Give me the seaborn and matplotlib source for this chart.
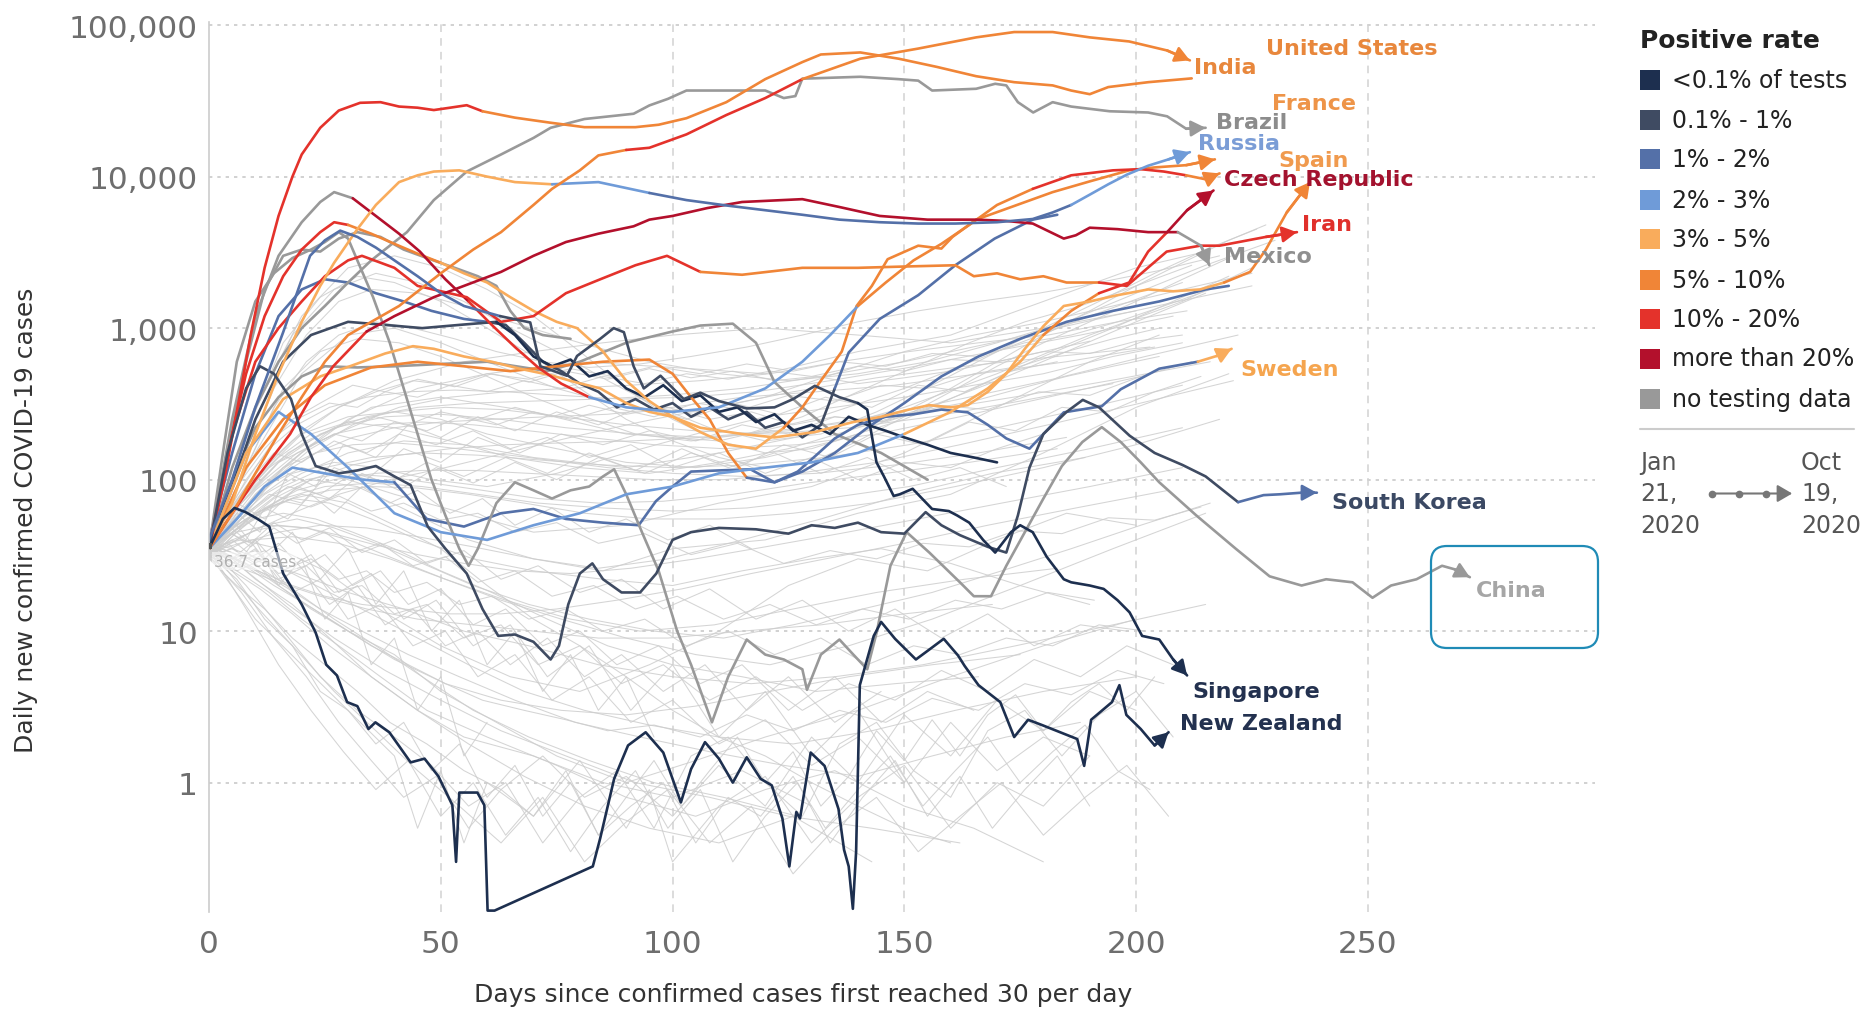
import matplotlib
matplotlib.use("Agg")
import matplotlib.pyplot as plt
import numpy as np
import pandas as pd
import seaborn as sns
from matplotlib.patches import FancyBboxPatch, Rectangle, FancyArrowPatch
from matplotlib.lines import Line2D
from matplotlib.ticker import FixedLocator, FuncFormatter, NullLocator

# ---------------------------------------------------------------- categories
R_LT01 = "<0.1% of tests"
R_01_1 = "0.1% - 1%"
R_1_2 = "1% - 2%"
R_2_3 = "2% - 3%"
R_3_5 = "3% - 5%"
R_5_10 = "5% - 10%"
R_10_20 = "10% - 20%"
R_20 = "more than 20%"
R_NONE = "no testing data"
rate_levels = [R_LT01, R_01_1, R_1_2, R_2_3, R_3_5, R_5_10, R_10_20, R_20, R_NONE]
rate_colors = ["#1d2f4f", "#3f4b62", "#5470a8", "#6f9bd8", "#f9ac5c",
               "#f08537", "#e4322b", "#b3102c", "#999999"]

# ---------------------------------------------------------------- highlighted series
us_days = [0, 3, 6, 9, 12, 15, 18, 20, 24, 28, 32.6, 37, 41, 45, 48.5, 52, 55.6, 59, 66, 73.6,
           81, 92, 97, 103, 111.6, 120, 128, 132, 140.5, 148.8, 157, 165.5, 173.7, 182, 186, 190, 194, 202.6, 212]
us_cases = [35, 90, 280, 900, 2500, 5500, 10000, 14000, 21000, 27300, 30700, 31000, 29000, 28500, 27500, 28500, 29600, 27000, 24500, 22700,
            21200, 21200, 22000, 24300, 31000, 44000, 57000, 64000, 66000, 60000, 53000, 46000, 42000, 40000, 37000, 35000, 39000, 42000, 44500]
us_rate = [(0, R_10_20), (59, R_5_10)]

in_days = [0, 5, 10, 15, 20, 25, 30, 35, 41, 50, 57, 63, 70, 74, 80, 84, 90, 95, 103, 111.6,
           120, 128, 140.5, 153, 165.5, 173.7, 182, 190, 198.5, 206.7, 211.6]
in_cases = [35, 60, 110, 200, 350, 600, 900, 1100, 1400, 2300, 3300, 4300, 6500, 8300, 11000, 13800, 15000, 15500, 19000, 25500,
            33000, 44000, 60000, 70000, 83000, 90000, 90000, 83000, 78000, 68000, 58500]
in_rate = [(0, R_5_10), (90, R_10_20), (128, R_5_10)]

br_days = [0, 5, 10, 15, 20, 25, 30, 35, 42.7, 48.5, 55.6, 63, 70, 73.7, 81, 91.6, 95, 99, 103, 111.6,
           120, 124, 126.5, 128, 140.5, 148.7, 153, 156, 165.5, 169.6, 172, 174.5, 177.8, 182, 186, 194.3, 202.6, 206.7, 210.8, 215]
br_cases = [35, 120, 300, 600, 1000, 1400, 2000, 2800, 4300, 7000, 10800, 14000, 18000, 21000, 24000, 26000, 29500, 32600, 37000, 37000,
            37000, 33000, 34000, 44300, 45600, 44000, 43000, 37000, 38000, 41000, 40000, 31000, 26500, 31000, 29000, 27000, 26500, 25000, 20700, 21000]
br_rate = [(0, R_NONE)]

ru_days = [0, 5, 10, 15, 20, 24, 27, 32, 36, 41, 45, 48.5, 54, 60, 66, 74, 84, 95, 103, 111.6,
           120, 128, 136, 144.7, 153, 161, 170, 177.7, 182, 186, 190, 194, 198, 202.6, 207, 211.6]
ru_cases = [35, 70, 200, 500, 1100, 1900, 2700, 4500, 6500, 9200, 10200, 10800, 11000, 10000, 9200, 8900, 9200, 7800, 7000, 6450,
            6000, 5600, 5200, 5000, 4900, 4900, 5000, 5250, 5800, 6500, 7600, 8900, 10300, 11800, 13000, 14500]
ru_rate = [(0, R_3_5), (74, R_2_3), (88, R_1_2), (185, R_2_3)]

cn_days = [0, 3, 6, 10, 14, 18, 22, 25, 28, 30, 32, 35.4, 39, 42, 45, 48, 51, 54, 56, 58,
           62, 66, 70, 74, 78, 82, 85, 87.4, 90, 93.4, 97, 101, 104, 108.5, 112, 116, 120, 124, 128, 129,
           132, 136, 139, 142, 144, 147, 150.5, 155.4, 162, 165, 168.7, 172, 176, 180, 184, 188.4, 192.6, 196.7, 201, 205,
           213, 221.5, 228.8, 235.7, 241, 246.7, 251, 255, 260.5, 266, 268.7, 272]
cn_cases = [35, 150, 600, 1500, 2300, 2900, 3300, 3700, 4300, 3900, 2800, 1600, 800, 400, 200, 100, 58, 35, 27, 35,
            70, 96, 85, 75, 85, 90, 105, 117, 80, 45, 25, 10, 6, 2.5, 5, 8.8, 7, 6.5, 5.6, 4.1,
            7, 8.8, 7, 5.6, 9.7, 27, 45, 33, 21, 17, 17, 27, 45, 75, 123, 177, 222, 177, 130, 96,
            58, 35, 23, 20, 22, 21, 16.6, 20, 22, 27, 25.6, 22.7]
cn_rate = [(0, R_NONE)]

kr_days = [0, 4, 8, 11, 14, 17.7, 20, 23, 28, 32, 36, 40, 43.5, 47.2, 51, 55.6, 59, 62.4, 66, 70,
           73.7, 75.5, 77.5, 80, 82.7, 85, 89, 93, 96.5, 100, 104, 110, 118, 125, 130, 135, 140, 145, 150, 154.6,
           158, 162, 168, 172, 174.5, 177, 180, 185, 188.5, 192, 198.6, 204, 210, 215, 222, 227.5, 231, 235.7, 239]
kr_cases = [35, 150, 400, 560, 500, 340, 200, 123, 110, 115, 123, 105, 92, 49, 35, 24, 14, 9.3, 9.5, 8.5,
            6.5, 8, 15, 24, 28, 22, 18, 18, 24, 40, 45, 48, 47, 44, 50, 48, 52, 45, 44, 61,
            50, 43, 36, 33, 58, 120, 200, 280, 336, 300, 195, 150, 125, 105, 71, 79, 80, 82, 82]
kr_rate = [(0, R_01_1), (218, R_1_2)]

sg_days = [0, 5, 10, 16, 21.8, 25, 28.3, 32, 36, 40, 45, 50, 55, 62.8, 69.3, 71.5, 77.2, 79.4, 84.4, 87.3,
           89.5, 91.6, 93.8, 97.4, 102.4, 106, 110, 116, 122, 126, 130.7, 136, 140, 142, 143, 144, 145.6, 147.7, 149, 151.8,
           156, 159.6, 161.4, 164, 167, 169.6, 173, 175, 177.7, 180.7, 184.4, 186, 190, 193, 196, 198.6, 201.3, 205, 208, 211]
sg_cases = [40, 100, 300, 940, 3000, 3800, 4400, 4000, 3400, 2800, 2200, 1700, 1400, 1200, 1090, 560, 485, 655, 850, 1000,
            940, 560, 400, 485, 340, 375, 330, 295, 300, 340, 416, 350, 320, 290, 194, 130, 105, 78, 80, 87,
            64, 62, 58, 52, 40, 33, 45, 50, 45, 31, 22, 21, 20, 19, 16, 13.3, 9.3, 8.8, 6.5, 5.1]
sg_rate = [(0, R_1_2), (60, R_01_1), (140, R_LT01)]

nz_days = [0, 3, 5.5, 7.9, 10.5, 13, 16, 20, 23, 25.3, 27.6, 29.8, 32, 34.4, 35.9, 38.9, 43.5, 46.5, 49.5, 52.5,
           53.3, 54, 57.9, 59.4, 60.1, 61.6, 82.8, 84.4, 87.4, 90.4, 94.2, 98, 101.8, 104, 107, 110, 113, 116, 119, 121.4,
           123.7, 125.2, 126.7, 127.5, 129.8, 132.8, 135.8, 137, 138, 138.9, 139.6, 140.4, 143.4, 145, 148, 152.5, 155.5, 158.5, 161.6, 163,
           166, 170.7, 173.7, 176.7, 179.7, 187.3, 188.8, 190.3, 194.8, 196.4, 197.9, 201, 204, 207]
nz_cases = [35, 55, 65, 61, 55, 49, 24, 15, 9.8, 6, 5.1, 3.4, 3.2, 2.26, 2.5, 2.15, 1.36, 1.44, 1.1, 0.71,
            0.3, 0.86, 0.86, 0.71, 0.143, 0.143, 0.28, 0.43, 1.06, 1.76, 2.15, 1.58, 0.74, 1.23, 1.85, 1.44, 1.0, 1.47, 1.06, 0.96,
            0.58, 0.28, 0.64, 0.58, 1.58, 1.29, 0.67, 0.36, 0.28, 0.147, 0.35, 4.4, 9.3, 11.5, 8.9, 6.5, 7.6, 8.9, 6.9, 5.9,
            4.4, 3.4, 2.0, 2.6, 2.4, 1.94, 1.29, 2.6, 3.4, 4.4, 2.8, 2.26, 1.76, 2.15]
nz_rate = [(0, R_LT01)]

mx_days = [0, 5, 10, 17.5, 22, 26.8, 34, 40, 48.5, 55, 63, 70, 77, 84, 91.6, 95, 100, 107.5, 115, 128,
           136, 144.7, 155, 165.5, 172, 177.7, 184.4, 187, 190, 196, 202.6, 209, 214, 215.8]
mx_cases = [35, 60, 100, 200, 350, 560, 950, 1200, 1600, 1900, 2350, 3000, 3700, 4200, 4700, 5200, 5500, 6200, 6800, 7100,
            6300, 5500, 5200, 5200, 5100, 4900, 3900, 4100, 4600, 4500, 4300, 4300, 3500, 2600]
mx_rate = [(0, R_10_20), (30, R_20), (209, R_NONE)]

ir_days = [0, 5, 10, 15, 20, 25, 30, 33, 40, 45, 55.6, 63, 70, 77, 84.4, 92, 98.8, 106, 115, 128,
           140, 150, 161, 165, 170, 175, 180, 185, 192, 198, 206.6, 213.8, 218, 228, 234.7]
ir_cases = [35, 200, 600, 1000, 1500, 2200, 2800, 3000, 2500, 1900, 1600, 1100, 1200, 1700, 2100, 2600, 3000, 2350, 2250, 2500,
            2500, 2550, 2600, 2200, 2300, 2100, 2200, 2000, 2000, 1900, 3200, 3500, 3500, 4000, 4300]
ir_rate = [(0, R_10_20), (106, R_5_10), (192, R_10_20)]

cz_days = [0, 8, 15, 22, 30, 40, 50, 60, 70, 80, 90, 100, 110, 120, 130, 140, 150, 160, 168, 175,
           180, 186, 192, 198.5, 202.6, 206.7, 211, 216.7]
cz_cases = [35, 150, 280, 200, 120, 60, 45, 40, 50, 60, 80, 90, 110, 120, 130, 150, 200, 280, 400, 600,
            900, 1300, 1700, 2000, 3200, 4300, 6000, 8100]
cz_rate = [(0, R_2_3), (150, R_3_5), (180, R_5_10), (192, R_10_20), (203, R_20)]

se_days = [0, 8, 16, 25, 35, 45, 55, 65, 75, 85, 95, 100, 104, 108, 112, 116, 122, 127, 131, 135,
           140, 146, 152, 158, 163.7, 168, 172, 177, 180, 184.4, 192.6, 196.7, 205, 213.3, 217.4, 220.6]
se_cases = [35, 120, 250, 420, 550, 600, 560, 520, 560, 600, 620, 500, 350, 250, 150, 103, 96, 113, 145, 187,
            230, 260, 270, 290, 278, 230, 187, 160, 200, 278, 305, 395, 540, 600, 655, 730]
se_rate = [(0, R_5_10), (116, R_1_2), (208, R_3_5)]

it_days = [0, 4, 8, 12, 16, 20, 24, 27, 30, 35, 40, 45, 50, 55, 60, 65, 70, 75, 79.4, 85,
           90, 95, 100, 106, 115, 122, 130.7, 139, 145, 151, 155.4, 160, 163.7, 168, 172, 176, 180, 184.4, 190, 196,
           202.6, 208, 213.8, 219, 224.6, 228, 232.5, 237.5]
it_cases = [35, 150, 500, 1200, 2200, 3300, 4300, 5000, 4800, 4200, 3600, 3100, 2700, 2300, 2000, 1600, 1300, 1100, 1000, 700,
            450, 330, 260, 220, 200, 190, 206, 240, 260, 290, 310, 300, 310, 380, 500, 730, 1030, 1400, 1500, 1650,
            1800, 1750, 1800, 2000, 2350, 3300, 5800, 9200]
it_rate = [(0, R_10_20), (30, R_5_10), (50, R_3_5), (215, R_5_10)]

fr_days = [0, 8, 16, 24, 30.4, 38, 44, 48.5, 55, 61, 67, 73.6, 79, 84.4, 90, 95, 100, 106, 112, 118,
           124, 128, 132, 136.5, 139.7, 143, 146.4, 153, 158, 160.4, 165.5, 173.7, 182, 190, 198.5, 204, 210.8, 217]
fr_cases = [35, 150, 340, 480, 560, 680, 760, 730, 650, 600, 540, 490, 440, 400, 320, 280, 260, 206, 170, 160,
            220, 300, 450, 700, 1400, 1900, 2850, 3500, 3350, 4000, 5200, 6400, 7900, 9300, 11000, 11500, 11900, 13000]
fr_rate = [(0, R_3_5), (124, R_5_10)]

es_days = [0, 5, 10, 15, 20, 24, 27, 31, 36, 41, 45.5, 51, 56, 61, 66, 71, 76, 82, 90, 100,
           110, 120, 128, 134, 140, 146, 152, 158, 164, 170, 177.7, 186, 195, 201, 206, 210.8, 215, 218]
es_cases = [35, 250, 1200, 3000, 5000, 6800, 7900, 7200, 5500, 4200, 3200, 2100, 1500, 1050, 750, 550, 430, 350, 300, 280,
            300, 400, 600, 900, 1400, 2000, 2800, 3600, 4800, 6500, 8300, 10200, 11000, 11200, 10800, 10200, 9600, 10500]
es_rate = [(0, R_NONE), (31, R_20), (56, R_10_20), (82, R_2_3), (140, R_5_10), (175, R_10_20), (210, R_5_10)]

# unlabelled coloured series
g1_days = [0, 5, 10, 15, 20, 25, 32, 40, 50, 60, 73, 80, 90, 100, 106, 113, 118, 122, 128, 135, 145, 155]
g1_cases = [35, 100, 220, 350, 480, 560, 550, 560, 580, 600, 520, 600, 800, 950, 1040, 1070, 800, 440, 300, 200, 150, 100]
g1_rate = [(0, R_NONE)]

g2_days = [0, 4, 8, 12, 16, 20, 24, 28, 32, 37, 42, 47, 53, 58, 62, 65, 68, 72, 78]
g2_cases = [35, 150, 600, 1800, 3000, 3300, 3200, 3900, 4300, 4000, 3300, 2900, 2500, 2200, 1900, 1300, 1000, 900, 850]
g2_rate = [(0, R_NONE)]

m2_days = [0, 5, 10, 15, 20, 25, 30, 36, 42, 48, 55, 60, 64, 68, 72, 76, 80, 84, 88, 92,
           96, 100, 104, 108, 112, 116, 120, 124, 128, 132, 135, 138, 144.7, 153, 161, 169.5, 177.7, 183]
m2_cases = [40, 150, 500, 1200, 1800, 2100, 2000, 1700, 1500, 1300, 1150, 1100, 1050, 800, 600, 520, 430, 380, 300, 340,
            290, 320, 260, 300, 250, 280, 220, 240, 190, 230, 400, 690, 1150, 1650, 2600, 3900, 5200, 5600]
m2_rate = [(0, R_1_2), (60, R_01_1), (135, R_1_2)]

m3_days = [0, 5, 10, 16, 22, 30, 38, 46, 54, 62, 66, 70, 74, 78, 82, 86, 90, 94, 98, 102,
           106, 110, 114, 118, 122, 126, 130, 134, 138, 142, 146, 150, 155, 160, 165, 170]
m3_cases = [38, 90, 250, 600, 900, 1100, 1050, 1000, 1050, 1100, 900, 650, 560, 620, 480, 520, 400, 350, 420, 330,
            360, 280, 300, 240, 270, 210, 230, 200, 260, 230, 210, 190, 170, 150, 140, 130]
m3_rate = [(0, R_01_1), (62, R_LT01)]

m4_days = [0, 6, 12, 18, 25, 33, 40, 47, 55, 63, 70, 77, 85, 92.7, 96.4, 100, 104, 110, 116.8, 122,
           128, 135, 142, 150, 158, 166, 175, 185, 195, 205, 215, 220]
m4_cases = [35, 55, 90, 120, 110, 100, 96, 55, 49, 60, 64, 55, 52, 50, 72, 90, 113, 115, 117, 96,
            113, 150, 220, 320, 480, 650, 850, 1100, 1300, 1500, 1800, 1900]
m4_rate = [(0, R_2_3), (40, R_1_2)]

# ---------------------------------------------------------------- other countries (thin grey)
bg_rising = [
    ([0, 10, 20, 30, 45, 60, 80, 100, 120, 140, 160, 180, 200, 215], [35, 80, 150, 250, 400, 500, 600, 550, 500, 700, 900, 1500, 2500, 3200]),
    ([0, 8, 16, 25, 35, 50, 70, 90, 110, 130, 150, 170, 190, 210], [32, 60, 120, 200, 300, 350, 280, 200, 180, 250, 400, 700, 1200, 2000]),
    ([0, 8, 18, 28, 40, 55, 70, 85, 100, 120, 140, 160, 180, 200], [40, 90, 180, 300, 450, 600, 700, 800, 900, 1000, 900, 800, 1000, 1300]),
    ([0, 6, 12, 20, 30, 42, 55, 70, 90, 110, 130, 150, 170, 190, 210, 225], [33, 55, 80, 110, 150, 180, 170, 140, 120, 150, 200, 300, 500, 900, 1500, 2500]),
    ([0, 9, 18, 27, 36, 48, 60, 75, 90, 105, 120, 135, 150, 165, 180, 195, 210], [37, 70, 110, 130, 120, 100, 90, 110, 150, 200, 260, 300, 350, 420, 500, 650, 800]),
    ([0, 4, 9, 15, 22, 30, 40, 52, 65, 80, 95, 110, 125, 140, 155, 170, 185, 200, 215], [35, 55, 90, 140, 200, 240, 220, 180, 140, 120, 110, 130, 160, 220, 300, 450, 700, 1100, 1700]),
    ([0, 10, 20, 30, 40, 50, 60, 75, 90, 105, 120, 135, 150, 165, 180, 195, 210, 220], [36, 100, 200, 260, 280, 250, 200, 160, 130, 120, 140, 180, 250, 400, 650, 1000, 1600, 2200]),
    ([0, 7, 14, 22, 31, 41, 52, 64, 77, 91, 106, 121, 136, 151, 166, 181, 196, 211], [38, 60, 100, 160, 230, 300, 350, 380, 400, 420, 450, 500, 600, 700, 800, 900, 1100, 1300]),
    ([0, 5, 10, 16, 23, 31, 40, 50, 61, 73, 86, 100, 115, 131, 148, 166, 185, 204], [34, 50, 75, 110, 150, 190, 220, 240, 250, 260, 270, 300, 350, 380, 420, 500, 600, 750]),
    ([0, 4, 8, 13, 19, 26, 34, 43, 53, 64, 76, 89, 103, 118, 134, 151, 169, 188, 208], [36, 60, 100, 160, 230, 300, 350, 380, 390, 380, 360, 340, 350, 380, 450, 550, 700, 900, 1200]),
    ([0, 9, 18, 28, 39, 51, 64, 78, 93, 109, 126, 144, 163, 183, 203], [32, 45, 60, 80, 100, 120, 150, 190, 240, 300, 380, 470, 560, 650, 750]),
    ([0, 8, 17, 27, 38, 50, 63, 77, 92, 108, 125, 143, 162, 182, 202, 222], [36, 80, 150, 220, 260, 270, 250, 220, 200, 190, 210, 260, 340, 460, 650, 900]),
    ([0, 7, 15, 24, 34, 45, 57, 70, 84, 99, 115, 132, 150, 169, 189, 209, 225], [34, 70, 130, 200, 260, 300, 320, 330, 340, 360, 400, 480, 600, 800, 1100, 1500, 1900]),
    ([0, 6, 12, 19, 27, 36, 46, 57, 69, 82, 96, 111, 127, 144, 162, 181, 201], [39, 65, 100, 150, 200, 230, 240, 230, 210, 190, 170, 160, 170, 200, 260, 350, 480]),
    ([0, 7, 14, 22, 31, 41, 52, 64, 77, 91, 106, 122, 139, 157, 176, 196, 216], [32, 50, 75, 100, 125, 145, 160, 170, 175, 180, 190, 210, 240, 290, 360, 460, 600]),
    ([0, 8, 16, 25, 35, 46, 58, 71, 85, 100, 116, 133, 151, 170, 190, 210], [34, 60, 90, 120, 140, 150, 145, 135, 125, 120, 125, 140, 170, 220, 300, 420]),
    ([0, 6, 13, 21, 30, 40, 51, 63, 76, 90, 105, 121, 138, 156, 175, 195], [35, 70, 120, 180, 240, 280, 300, 290, 260, 230, 210, 200, 220, 260, 330, 430]),
    ([0, 6, 12, 19, 27, 36, 46, 57, 69, 82, 96, 111, 127, 144, 162, 181, 201, 221], [30, 45, 65, 85, 100, 110, 115, 115, 110, 105, 100, 100, 110, 130, 170, 230, 320, 450]),
    ([0, 6, 11, 17, 23, 29, 36, 43, 50, 58, 66, 75, 84, 93, 103, 113, 123, 133, 143, 153, 163, 173, 183],
     [31, 60, 45, 110, 90, 170, 140, 230, 190, 260, 210, 280, 230, 300, 250, 320, 270, 350, 300, 420, 380, 520, 600]),
    ([0, 7, 13, 20, 27, 34, 42, 50, 58, 67, 76, 85, 95, 105, 115, 125, 135, 146, 157, 168, 179, 190, 201, 212],
     [33, 55, 80, 70, 120, 100, 160, 130, 190, 150, 200, 170, 210, 180, 230, 200, 260, 240, 310, 290, 380, 360, 480, 600]),
    ([0, 5, 10, 15, 21, 27, 33, 40, 47, 54, 62, 70, 78, 87, 96, 105, 115, 125, 135, 145, 155, 165, 175, 185, 195, 205],
     [35, 60, 90, 130, 160, 200, 180, 240, 210, 260, 230, 280, 250, 300, 260, 320, 290, 360, 330, 420, 400, 500, 560, 700, 850, 1000]),
    ([0, 6, 12, 19, 26, 33, 41, 49, 57, 66, 75, 84, 94, 104, 114, 124, 134, 144, 154, 164, 174, 184, 194, 204, 214],
     [39, 70, 55, 90, 75, 110, 85, 120, 95, 130, 100, 140, 110, 150, 120, 170, 140, 200, 170, 240, 210, 300, 280, 380, 480]),
    ([0, 10, 20, 30, 40, 50, 60, 70, 80, 90, 100, 110, 120, 130, 140, 150, 160, 170, 180, 190, 200, 210, 220, 228],
     [35, 300, 1200, 2500, 3000, 2500, 1800, 1200, 700, 400, 250, 180, 150, 160, 200, 280, 400, 600, 900, 1300, 1900, 2700, 3800, 4800]),
    ([0, 8, 16, 24, 32, 40, 50, 60, 70, 80, 90, 100, 110, 120, 130, 140, 150, 160, 170, 180, 190, 200, 210, 220],
     [33, 200, 800, 1600, 2200, 2000, 1500, 1000, 650, 400, 250, 180, 140, 120, 130, 180, 260, 380, 560, 800, 1100, 1500, 2100, 2900]),
    ([0, 10, 20, 30, 40, 50, 60, 75, 90, 105, 120, 135, 150, 165, 180, 195, 210, 225],
     [38, 150, 500, 900, 1000, 800, 600, 400, 300, 280, 350, 500, 700, 900, 1100, 1400, 1800, 2300]),
    ([0, 7, 14, 21, 28, 35, 45, 55, 65, 80, 95, 110, 125, 140, 155, 170, 185, 200, 215, 230],
     [34, 120, 400, 900, 1500, 1800, 1700, 1400, 1100, 800, 600, 500, 450, 500, 600, 800, 1100, 1700, 2600, 3800]),
    ([0, 9, 18, 27, 36, 45, 55, 65, 75, 86, 97, 108, 120, 132, 144, 156, 168, 180, 192, 204, 216, 226],
     [35, 250, 900, 1800, 2300, 2000, 1500, 1000, 700, 450, 300, 220, 180, 200, 280, 420, 650, 1000, 1500, 2300, 3400, 4500]),
    ([0, 8, 16, 24, 32, 41, 50, 60, 70, 81, 92, 104, 116, 128, 140, 152, 164, 176, 188, 200, 212],
     [33, 120, 400, 700, 850, 800, 650, 480, 350, 260, 200, 180, 200, 260, 380, 550, 800, 1100, 1400, 1900, 2600]),
    ([0, 7, 14, 21, 28, 36, 44, 53, 62, 72, 82, 93, 104, 116, 128, 140, 153, 166, 179, 192, 205, 218],
     [36, 100, 300, 600, 900, 1100, 1000, 850, 700, 600, 550, 580, 650, 750, 900, 1100, 1300, 1500, 1700, 2000, 2400, 3000]),
    ([0, 7, 14, 21, 28, 36, 44, 52, 60, 69, 78, 87, 96, 106, 116, 126, 136, 146, 156, 166, 176, 186, 196, 206, 216],
     [38, 80, 140, 220, 300, 380, 450, 420, 500, 460, 540, 480, 560, 500, 580, 520, 600, 560, 680, 650, 800, 900, 1100, 1400, 1800]),
]

bg_level = [
    ([0, 5, 12, 20, 30, 40, 55, 70, 90, 110, 130, 150, 170, 190, 205], [38, 50, 90, 120, 100, 80, 60, 45, 50, 70, 90, 150, 300, 600, 900]),
    ([0, 6, 14, 22, 32, 44, 56, 70, 85, 100, 120, 140, 160, 180, 200, 220], [30, 45, 70, 100, 90, 60, 40, 30, 25, 35, 40, 60, 80, 150, 300, 500]),
    ([0, 5, 11, 18, 26, 35, 45, 57, 70, 85, 100, 115, 130, 145, 160, 175, 190], [33, 45, 60, 75, 70, 55, 40, 30, 25, 22, 20, 25, 30, 35, 28, 20, 15]),
    ([0, 7, 15, 24, 34, 45, 57, 70, 84, 99, 115, 132, 150, 169, 189], [30, 38, 45, 50, 48, 42, 36, 30, 26, 30, 40, 55, 80, 110, 140]),
    ([0, 7, 14, 21, 29, 38, 48, 59, 71, 84, 98, 113, 129, 146, 164, 183], [35, 55, 80, 100, 110, 105, 95, 85, 75, 70, 72, 80, 95, 110, 130, 160]),
    ([0, 6, 12, 18, 25, 33, 42, 52, 63, 75, 88, 102, 117, 133, 150, 168, 187, 207], [31, 28, 24, 20, 17, 15, 14, 13, 13, 14, 16, 19, 24, 30, 38, 50, 65, 85]),
    ([0, 5, 10, 15, 21, 28, 36, 45, 55, 66, 78, 91, 105, 120, 136, 153, 171, 190, 210], [33, 40, 46, 50, 48, 43, 37, 32, 28, 25, 24, 26, 30, 36, 44, 55, 70, 90, 120]),
    ([0, 8, 16, 25, 35, 46, 58, 71, 85, 100, 116, 133, 151, 170, 190, 210], [36, 55, 75, 90, 95, 90, 80, 70, 65, 62, 65, 75, 90, 120, 160, 220]),
    ([0, 9, 18, 28, 39, 51, 64, 78, 93, 109, 126, 144, 163, 183], [33, 40, 42, 38, 30, 22, 16, 12, 10, 11, 14, 18, 22, 26]),
    ([0, 5, 11, 18, 26, 35, 45, 56, 68, 81, 95, 110, 126, 143, 161, 180, 200, 218], [36, 48, 62, 75, 85, 90, 88, 80, 70, 60, 55, 55, 60, 70, 90, 120, 170, 250]),
    ([0, 5, 10, 16, 23, 31, 40, 50, 61, 73, 86, 100, 115, 131, 148, 166, 185], [33, 55, 85, 120, 150, 170, 175, 165, 150, 135, 120, 110, 105, 110, 125, 150, 190]),
    ([0, 4, 8, 12, 17, 22, 27, 33, 39, 45, 52, 59, 66, 74, 82, 90, 99, 108, 117], [34, 50, 40, 65, 55, 80, 60, 90, 70, 85, 60, 75, 50, 65, 45, 55, 40, 50, 35]),
    ([0, 4, 9, 14, 20, 26, 33, 40, 47, 55, 63, 71, 80, 89, 98, 108, 118, 128, 138, 148, 158, 168, 178, 188, 198],
     [36, 45, 38, 52, 40, 48, 33, 40, 28, 34, 22, 27, 18, 22, 14, 19, 12, 16, 10, 14, 9, 13, 8, 11, 10]),
    ([0, 5, 10, 15, 20, 26, 32, 38, 45, 52, 60, 68, 76, 85, 94, 103, 112, 121, 130, 140, 150, 160, 170, 180, 190, 200, 210],
     [34, 70, 120, 200, 260, 320, 300, 380, 350, 420, 380, 450, 400, 480, 430, 500, 460, 520, 480, 560, 520, 620, 600, 700, 680, 820, 900]),
    ([0, 6, 12, 18, 24, 31, 38, 45, 53, 61, 69, 77, 86, 95, 104, 113, 122, 131, 140, 150, 160, 170, 180, 190],
     [36, 90, 160, 250, 320, 420, 380, 460, 410, 500, 440, 520, 460, 540, 470, 520, 450, 480, 430, 470, 520, 600, 700, 820]),
    ([0, 5, 10, 16, 22, 29, 36, 43, 50, 58, 66, 74, 82, 90, 99, 108, 117, 126, 135, 145, 155, 165, 175, 185, 195, 205],
     [32, 50, 80, 120, 170, 210, 260, 230, 280, 250, 300, 260, 310, 270, 300, 250, 280, 230, 260, 240, 290, 330, 400, 480, 560, 650]),
    ([0, 4, 9, 14, 20, 27, 34, 41, 49, 57, 65, 73, 82, 91, 100, 110, 120, 130, 140, 150, 160, 170, 180],
     [35, 60, 100, 150, 130, 180, 150, 200, 170, 210, 160, 190, 140, 170, 120, 150, 110, 140, 100, 130, 120, 160, 200]),
    ([0, 5, 11, 17, 24, 31, 39, 47, 55, 64, 73, 82, 92, 102, 112, 122, 132, 142, 152, 162, 172],
     [33, 45, 65, 90, 80, 110, 95, 130, 105, 140, 110, 150, 115, 160, 120, 150, 110, 140, 100, 120, 90]),
    ([0, 5, 9, 14, 19, 25, 31, 37, 44, 51, 58, 66, 74, 83, 92, 101, 111, 121, 131, 141, 151, 161, 171, 181, 191],
     [31, 44, 36, 48, 38, 45, 33, 38, 27, 31, 21, 25, 17, 20, 14, 17, 12, 15, 11, 14, 12, 16, 14, 18, 16]),
    ([0, 5, 10, 16, 22, 28, 35, 42, 50, 58, 66, 75, 84, 94, 104, 114, 124, 134, 144, 154, 164, 174, 184, 194, 204, 214],
     [34, 48, 60, 72, 66, 78, 62, 70, 54, 60, 45, 52, 38, 44, 32, 38, 28, 34, 30, 38, 36, 46, 44, 56, 54, 66]),
]

bg_falling = [
    ([0, 7, 15, 25, 35, 50, 65, 80, 95, 110, 125, 140, 155, 170, 185, 200], [36, 40, 35, 25, 15, 8, 5, 4, 6, 10, 20, 30, 25, 40, 60, 50]),
    ([0, 5, 10, 18, 26, 35, 45, 55, 70, 85, 100, 115, 130], [34, 30, 22, 15, 9, 5, 3, 2, 1.5, 1, 0.8, 1.2, 0.7]),
    ([0, 5, 10, 15, 22, 30, 40, 50, 62, 75, 90, 105, 120, 140, 160, 180, 200], [31, 35, 28, 20, 14, 10, 7, 4, 2.5, 1.5, 1, 1.4, 2, 3, 5, 8, 12]),
    ([0, 6, 13, 20, 28, 37, 47, 60, 75, 90, 105, 120, 135, 150, 165, 180], [30, 25, 18, 12, 8, 5, 3, 2, 1.3, 0.8, 0.6, 0.9, 1.2, 0.7, 0.5, 0.3]),
    ([0, 6, 12, 19, 27, 36, 46, 57, 69, 82, 96, 111, 126, 141, 156, 171, 186, 201, 216], [31, 40, 50, 55, 48, 38, 28, 20, 15, 12, 10, 9, 11, 14, 18, 25, 35, 50, 70]),
    ([0, 8, 16, 24, 33, 43, 54, 66, 79, 93, 108, 124, 140, 156, 172, 188], [35, 28, 20, 14, 10, 7, 5, 3.5, 2.5, 2, 1.6, 1.3, 1.1, 1.5, 2, 2.5]),
    ([0, 6, 13, 21, 30, 40, 51, 63, 76, 90, 105, 121, 138, 156, 175, 195, 215], [37, 45, 50, 48, 40, 30, 22, 16, 12, 9, 7, 6, 8, 12, 20, 35, 60]),
    ([0, 10, 20, 30, 40, 50, 60, 70, 80, 90, 100, 110, 120, 130, 140, 150, 160], [33, 60, 80, 70, 50, 35, 20, 12, 8, 5, 3, 2, 1.5, 1, 0.7, 0.5, 0.4]),
    ([0, 5, 11, 18, 26, 35, 45, 56, 68, 81, 95, 110, 126, 143, 161, 180, 200], [38, 35, 30, 24, 18, 13, 9, 6, 4, 3, 2.4, 2, 1.8, 2.2, 3, 4, 5]),
    ([0, 6, 13, 21, 30, 40, 51, 63, 76, 90, 105, 121, 138, 156, 175], [37, 30, 22, 15, 10, 6.5, 4.5, 3.5, 3, 2.8, 3.2, 4, 5, 6, 7]),
    ([0, 5, 11, 18, 26, 35, 45, 56, 68, 81, 95, 110, 126, 143], [30, 25, 19, 13, 8, 5, 3, 1.8, 1.1, 0.7, 0.5, 0.4, 0.6, 0.3]),
    ([0, 5, 10, 16, 23, 31, 40, 50, 61, 73, 86, 100, 115, 131, 148, 166], [35, 45, 55, 60, 55, 45, 35, 25, 18, 12, 8, 6, 5, 4, 4.5, 5]),
    ([0, 6, 12, 19, 27, 36, 46, 57, 69, 82, 96, 111, 127], [38, 32, 25, 18, 12, 8, 5, 3, 2, 1.4, 1, 0.8, 0.6]),
    ([0, 7, 15, 24, 34, 45, 57, 70, 84, 99, 115, 132, 150, 169], [31, 26, 21, 17, 14, 12, 11, 10, 9, 9, 10, 11, 13, 15]),
    ([0, 9, 19, 30, 42, 55, 69, 84, 100, 117, 135, 154, 174, 195, 215], [37, 30, 24, 18, 14, 10, 8, 6, 5, 4.5, 5, 6, 8, 11, 15]),
    ([0, 8, 17, 27, 38, 50, 63, 77, 92, 108, 125, 143, 162], [36, 25, 15, 9, 5.5, 3.5, 2.2, 1.5, 1, 0.8, 0.6, 0.5, 0.4]),
    ([0, 5, 10, 15, 20, 26, 32, 38, 44, 51, 58, 65, 73, 81, 89, 98, 107, 116, 125, 135, 145],
     [36, 28, 35, 22, 26, 15, 20, 11, 14, 8, 10, 6, 9, 5, 7, 4, 6, 3, 5, 2.5, 4]),
    ([0, 5, 10, 16, 22, 28, 35, 42, 49, 57, 65, 73, 82, 91, 100, 110, 120, 130, 140, 150, 160, 170, 180, 190],
     [38, 30, 40, 25, 32, 18, 24, 12, 16, 8, 11, 5, 8, 3, 6, 2, 4, 1.5, 3, 1, 2.5, 1.2, 2, 1.5]),
    ([0, 5, 10, 15, 20, 25, 31, 37, 43, 50, 57, 64, 72, 80, 88, 97, 106, 115, 125, 135, 145, 155, 165],
     [33, 40, 30, 38, 26, 32, 20, 25, 15, 19, 11, 14, 8, 10, 6, 8, 4.5, 6, 3, 5, 2.5, 4, 3]),
    ([0, 4, 8, 12, 17, 22, 28, 34, 40, 47, 54, 61, 69, 77, 85, 94, 103, 112, 122, 132, 142, 152, 162, 172, 182, 192, 202],
     [33, 38, 30, 34, 26, 30, 22, 25, 18, 21, 15, 17, 12, 14, 10, 12, 8, 10, 7, 9, 6, 8, 7, 9, 8, 11, 10]),
    ([0, 5, 10, 15, 21, 27, 33, 40, 47, 55, 63, 71, 80, 89, 98, 108, 118, 128, 138, 148, 158, 168, 178, 188, 198, 208],
     [37, 30, 34, 24, 27, 18, 20, 13, 15, 9, 11, 6, 8, 4.5, 6, 3.5, 5, 3, 4.5, 3.5, 5.5, 4, 6.5, 5, 8, 6]),
    ([0, 6, 12, 18, 24, 30, 37, 44, 51, 58, 66, 74, 82, 91, 100, 110, 120, 130, 140, 150],
     [35, 25, 30, 18, 22, 12, 15, 8, 10, 5, 7, 3.5, 5, 2.5, 3.5, 1.8, 2.6, 1.3, 2, 1]),
    ([0, 7, 14, 21, 28, 35, 43, 51, 59, 68, 77, 86, 96, 106, 116, 126, 136, 146, 156, 166, 176, 186, 196, 206],
     [38, 28, 20, 15, 11, 8, 6, 4.5, 3.5, 3, 2.6, 2.2, 2.4, 2, 2.8, 2.2, 3, 2.5, 3.6, 3, 4.5, 3.8, 5.5, 4.5]),
]

bg_sparse = [
    ([0, 6, 12, 18, 25, 32, 39, 47, 55, 63, 72, 81, 90, 100, 110, 120, 130, 140, 150, 160, 170, 180, 190, 200],
     [30, 20, 14, 9, 6, 4, 2.5, 1.8, 1.2, 0.9, 1.5, 0.8, 1.1, 0.6, 1.3, 0.7, 2, 1, 2.8, 1.5, 3.5, 2.2, 4, 3]),
    ([0, 10, 20, 30, 40, 45, 50, 55, 60, 70, 80, 90, 95, 100, 110, 120, 130, 140, 150, 160, 170, 180, 190],
     [32, 12, 6, 3, 1.5, 0.5, 1.2, 0.4, 1, 0.6, 1.4, 0.5, 0.9, 0.3, 0.7, 1.1, 0.4, 0.8, 1.3, 0.5, 1, 0.7, 1.5]),
    ([0, 8, 16, 24, 32, 40, 48, 56, 64, 72, 80, 88, 96, 104, 112, 120, 128, 136, 144, 152, 160, 168, 176, 184, 192, 200, 208],
     [36, 20, 10, 5, 3, 2, 1.3, 0.7, 1, 0.4, 0.8, 1.2, 0.5, 1.5, 2, 1, 0.6, 1.8, 2.5, 1.2, 0.8, 2.2, 3, 1.5, 2.8, 4, 2]),
    ([0, 5, 10, 15, 20, 25, 30, 35, 40, 45, 50, 55, 60], [34, 25, 40, 20, 30, 12, 18, 6, 9, 3, 5, 1.5, 2.5]),
    ([0, 7, 14, 21, 28, 35, 42, 49, 56, 63, 70, 77, 84, 91, 98, 105, 112, 119, 126, 133, 140, 147, 154, 161, 168, 175, 182, 189, 196, 203],
     [31, 18, 9, 5, 2.5, 1.4, 0.8, 1.1, 0.5, 0.9, 0.6, 1.2, 0.45, 0.7, 1, 0.4, 0.8, 0.6, 1.1, 0.5, 0.9, 1.5, 0.7, 1.2, 2, 1, 1.6, 2.4, 1.2, 0.9]),
    ([0, 6, 12, 18, 24, 30, 36, 42, 48, 54, 60, 66, 72, 78, 84, 90, 96], [37, 50, 30, 45, 22, 35, 15, 25, 10, 16, 6, 10, 4, 7, 3, 5, 2]),
    ([0, 8, 15, 22, 29, 36, 43, 50, 57, 64, 71, 78, 85, 92, 99, 106, 113, 120, 127, 134, 141, 148, 155, 162, 169, 176, 183, 190],
     [35, 14, 6, 3, 1.6, 0.9, 1.4, 0.6, 1, 0.45, 0.8, 0.35, 0.7, 1.2, 0.5, 0.9, 0.3, 0.6, 1, 0.4, 0.8, 1.4, 0.6, 1.1, 0.5, 0.9, 1.5, 0.7]),
    ([0, 6, 12, 18, 24, 30, 36, 42, 48, 54, 60, 66, 72, 78, 84, 90, 96, 102, 108, 114, 120, 126, 132, 138, 144, 150, 156, 162, 168, 174, 180, 186, 192, 198, 204],
     [32, 22, 12, 8, 4, 3, 1.8, 2.5, 1.2, 1.8, 0.8, 1.3, 0.6, 1, 0.45, 0.8, 1.4, 0.7, 1.2, 2, 1, 1.6, 0.7, 1.1, 2.2, 1.4, 2.6, 1.5, 2.8, 3.8, 2.2, 3.4, 4.5, 3, 5]),
    ([0, 9, 18, 27, 36, 45, 54, 63, 72, 81, 90, 99, 108, 117, 126, 135, 144, 153, 162, 171, 180, 189, 198, 207],
     [36, 16, 8, 4, 2.2, 1.2, 0.7, 0.4, 0.8, 0.3, 0.55, 0.9, 0.4, 0.7, 0.25, 0.5, 0.8, 0.35, 0.6, 1, 0.45, 0.8, 1.3, 0.6]),
]

# start-of-series note
start_note_day = 0
start_note_cases = 36.7

# ---------------------------------------------------------------- helpers
def rate_at(day, spec):
    name = spec[0][1]
    for start, cat in spec:
        if day >= start:
            name = cat
    return name


def coloured_runs(days, cases, spec):
    runs = []
    run_cat = rate_at(days[0], spec)
    run_idx = [0]
    for i in range(1, len(days)):
        c = rate_at(days[i - 1], spec)
        if c != run_cat:
            runs.append((run_cat, run_idx))
            run_cat = c
            run_idx = [i - 1]
        run_idx.append(i)
    runs.append((run_cat, run_idx))
    return runs


series = [
    ("g1", g1_days, g1_cases, g1_rate, False),
    ("g2", g2_days, g2_cases, g2_rate, False),
    ("m4", m4_days, m4_cases, m4_rate, False),
    ("m2", m2_days, m2_cases, m2_rate, False),
    ("m3", m3_days, m3_cases, m3_rate, False),
    ("China", cn_days, cn_cases, cn_rate, True),
    ("Brazil", br_days, br_cases, br_rate, True),
    ("Sweden", se_days, se_cases, se_rate, True),
    ("Czech Republic", cz_days, cz_cases, cz_rate, True),
    ("Italy", it_days, it_cases, it_rate, True),
    ("France", fr_days, fr_cases, fr_rate, True),
    ("Spain", es_days, es_cases, es_rate, True),
    ("Iran", ir_days, ir_cases, ir_rate, True),
    ("Mexico", mx_days, mx_cases, mx_rate, True),
    ("Russia", ru_days, ru_cases, ru_rate, True),
    ("India", in_days, in_cases, in_rate, True),
    ("United States", us_days, us_cases, us_rate, False),
    ("South Korea", kr_days, kr_cases, kr_rate, True),
    ("Singapore", sg_days, sg_cases, sg_rate, True),
    ("New Zealand", nz_days, nz_cases, nz_rate, True),
]

rows = []
for name, d, c, spec, _ in series:
    for k, (cat, idx) in enumerate(coloured_runs(d, c, spec)):
        for i in idx:
            rows.append((f"{name}#{k}", cat, d[i], c[i]))
hl = pd.DataFrame(rows, columns=["seg", "rate", "day", "cases"])

bg_rows = []
for gname, group in [("r", bg_rising), ("l", bg_level), ("f", bg_falling), ("s", bg_sparse)]:
    for j, (d, c) in enumerate(group):
        for x, y in zip(d, c):
            bg_rows.append((f"{gname}{j}", x, y))
bg = pd.DataFrame(bg_rows, columns=["line", "day", "cases"])

# ---------------------------------------------------------------- figure
sns.set_theme(style="white")
plt.rcParams["font.family"] = ["DejaVu Sans"]

W, H = 1873, 1012
fig = plt.figure(figsize=(W / 100, H / 100), dpi=100)
ax = fig.add_axes([209 / W, 1 - 913 / H, (1595 - 209) / W, (913 - 22.9) / H])
ax.set_yscale("log")
ax.set_xlim(0, 299)
ax.set_ylim(0.14, 105000)

for y in [1, 10, 100, 1000, 10000, 100000]:
    ax.axhline(y, color="#c9c9c9", lw=1.2, ls=(0, (2, 3)), zorder=0.5)
for x in [50, 100, 150, 200, 250]:
    ax.axvline(x, color="#d2d2d2", lw=1.1, ls=(0, (5, 4)), zorder=0.5)

sns.lineplot(data=bg, x="day", y="cases", units="line", estimator=None, sort=False,
             color="#cdcdcd", linewidth=0.75, alpha=0.85, legend=False, ax=ax)

palette = dict(zip(rate_levels, rate_colors))
for seg in hl["seg"].unique():
    part = hl[hl["seg"] == seg]
    sns.lineplot(data=part, x="day", y="cases", hue="rate", palette=palette,
                 estimator=None, sort=False, linewidth=1.9, legend=False, ax=ax)

# arrow heads at the end of the labelled series
for name, d, c, spec, arrow in series:
    if not arrow:
        continue
    col = palette[rate_at(d[-2], spec)]
    ax.annotate("", xy=(d[-1], c[-1]), xytext=(d[-2], c[-2]),
                arrowprops=dict(arrowstyle="-|>,head_length=0.55,head_width=0.3",
                                color=col, lw=1.9, shrinkA=0, shrinkB=0, mutation_scale=16))

# start marker and its note
sns.scatterplot(x=[start_note_day], y=[start_note_cases], marker="s", s=18,
                color="#555555", edgecolor="none", legend=False, ax=ax, zorder=5)
ax.text(1.0, 29, f"{start_note_cases} cases", fontsize=11, color="#b0b0b0",
        va="center", ha="left", zorder=6,
        bbox=dict(boxstyle="square,pad=0.1", fc="white", ec="none", alpha=0.55))

# country labels
label_text = ["United States", "India", "France", "Brazil", "Russia", "Spain", "Czech Republic",
              "Iran", "Mexico", "Sweden", "South Korea", "China", "Singapore", "New Zealand"]
label_day = [228.1, 212.6, 229.4, 217.3, 213.4, 230.7, 219, 235.8, 219, 222.4, 242.3, 273.2, 212.1, 209.5]
label_y = [70800, 53000, 30700, 23000, 16600, 12900, 9600, 4900, 3000, 535, 71, 18.6, 4.0, 2.48]
label_col = ["#e8873c", "#e8873c", "#ee9448", "#8c8c8c", "#7b9dd6", "#f09a4e", "#a3122e",
             "#e0302b", "#8f8f8f", "#f5a54f", "#3b4964", "#a6a6a6", "#23314f", "#23314f"]
for t, xd, yv, col in zip(label_text, label_day, label_y, label_col):
    ax.text(xd, yv, t, color=col, fontsize=16, fontweight="bold", va="center", ha="left", zorder=7)

# axes styling
for s in ["top", "right", "bottom"]:
    ax.spines[s].set_visible(False)
ax.spines["left"].set_color("#cccccc")
ax.spines["left"].set_linewidth(1.2)
ax.yaxis.set_major_locator(FixedLocator([1, 10, 100, 1000, 10000, 100000]))
ax.yaxis.set_minor_locator(NullLocator())
ax.yaxis.set_major_formatter(FuncFormatter(lambda v, p: f"{int(round(v)):,}"))
ax.set_xticks([0, 50, 100, 150, 200, 250])
ax.tick_params(axis="both", length=0, labelsize=22.5, labelcolor="#6e6e6e")
ax.tick_params(axis="y", pad=8)
ax.tick_params(axis="x", pad=12)
ax.set_xlabel("")
ax.set_ylabel("")

fig.text(803 / W, 1 - 995 / H, "Days since confirmed cases first reached 30 per day",
         fontsize=18, color="#333333", ha="center", va="center")
fig.text(26 / W, 1 - 520 / H, "Daily new confirmed COVID-19 cases", rotation=90,
         fontsize=18, color="#333333", ha="center", va="center")

# legend
fig.text(1640 / W, 1 - 40.6 / H, "Positive rate", fontsize=18, fontweight="bold",
         color="#222222", ha="left", va="center")
item_y = [81.2, 120.6, 160.1, 200.7, 240.1, 280.7, 320.1, 359.5, 400.2]
for lvl, col, yy in zip(rate_levels, rate_colors, item_y):
    fig.patches.append(Rectangle((1640 / W, 1 - (yy + 10) / H), 20 / W, 20 / H,
                                 transform=fig.transFigure, fc=col, ec="none"))
    fig.text(1672 / W, 1 - yy / H, lvl, fontsize=17, color="#222222", ha="left", va="center")
fig.add_artist(Line2D([1640 / W, 1854 / W], [1 - 430 / H, 1 - 430 / H],
                      transform=fig.transFigure, color="#cccccc", lw=1.5))
for txt, yy in zip(["Jan", "21,", "2020"], [463.5, 494.5, 525.6]):
    fig.text(1640 / W, 1 - yy / H, txt, fontsize=17, color="#555555", ha="left", va="center")
for txt, yy in zip(["Oct", "19,", "2020"], [463.5, 494.5, 525.6]):
    fig.text(1801 / W, 1 - yy / H, txt, fontsize=17, color="#555555", ha="left", va="center")
fig.add_artist(FancyArrowPatch((1712 / W, 1 - 494.5 / H), (1795 / W, 1 - 494.5 / H),
                               transform=fig.transFigure, arrowstyle="-|>,head_length=6,head_width=3.5",
                               color="#777777", lw=1.5, mutation_scale=1.5))
for xx in [1712, 1739, 1766]:
    fig.add_artist(Line2D([xx / W], [1 - 494.5 / H], transform=fig.transFigure,
                          marker="o", ms=4.5, color="#777777", lw=0))

# highlight frame round the China label
fig.patches.append(FancyBboxPatch((14.31, (H - 649) / 100), 1.67, 1.02,
                                  boxstyle="round,pad=0,rounding_size=0.16",
                                  transform=fig.dpi_scale_trans, fill=False,
                                  ec="#1f8bb6", lw=1.6))

fig.savefig("out.png", dpi=100, facecolor="white")
